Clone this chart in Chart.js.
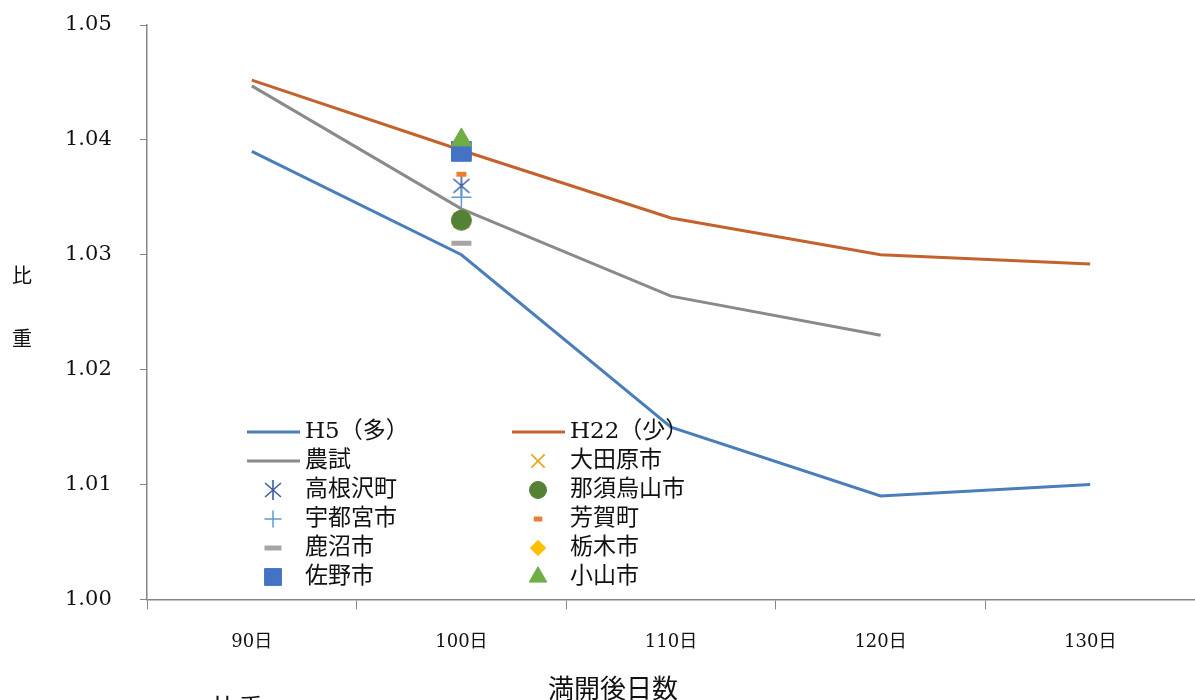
<!DOCTYPE html>
<html>
<head>
<meta charset="utf-8">
<script src="https://cdn.jsdelivr.net/npm/chart.js"></script>
<style>
html,body{margin:0;padding:0;background:#fff;}
canvas{display:block;}
</style>
</head>
<body>
<canvas id="graph" width="1195" height="700"></canvas>
<script>
// 満開後日数
const days = ["90日", "100日", "110日", "120日", "130日"];
const yTicks = [1.00, 1.01, 1.02, 1.03, 1.04, 1.05];

// 比重の推移
const h5 = [1.039, 1.030, 1.015, 1.009, 1.010];
const h22 = [1.0452, 1.0391, 1.0332, 1.030, 1.0292];
const noushi = [1.0447, 1.034, 1.0264, 1.023, null];

// 100日時点の市町の値
const cities = ["大田原市", "高根沢町", "那須烏山市", "宇都宮市", "芳賀町", "鹿沼市", "栃木市", "佐野市", "小山市"];
const cityValues = [1.033, 1.036, 1.033, 1.035, 1.037, 1.031, 1.039, 1.039, 1.040];

const serif = "'DejaVu Serif', 'Noto Sans CJK JP'";

// asterisk marker (6 spokes)
function asterisk(color, r) {
  let c = document.createElement("canvas");
  c.width = r * 2 + 2; c.height = r * 2 + 2;
  let g = c.getContext("2d");
  g.strokeStyle = color; g.lineWidth = 1.6;
  let m = r + 1;
  g.beginPath();
  g.moveTo(m, m - r); g.lineTo(m, m + r);
  g.moveTo(m - r * 0.8, m - r * 0.7); g.lineTo(m + r * 0.8, m + r * 0.7);
  g.moveTo(m + r * 0.8, m - r * 0.7); g.lineTo(m - r * 0.8, m + r * 0.7);
  g.stroke();
  return c;
}

const cityStyles = {
  "大田原市": {pointStyle: "crossRot", color: "#e8a317", radius: 11, bw: 1.5},
  "高根沢町": {pointStyle: asterisk("#3b5ea6", 10), color: "#3b5ea6", radius: 10, bw: 1.5},
  "那須烏山市": {pointStyle: "circle", color: "#548235", radius: 10, bw: 1},
  "宇都宮市": {pointStyle: "cross", color: "#5b9bd5", radius: 10, bw: 1.5},
  "芳賀町": {pointStyle: "line", color: "#ed7d31", radius: 5, bw: 5},
  "鹿沼市": {pointStyle: "line", color: "#a5a5a5", radius: 10, bw: 5},
  "栃木市": {pointStyle: "rectRot", color: "#ffc000", radius: 9, bw: 1},
  "佐野市": {pointStyle: "rect", color: "#4472c4", radius: 14, bw: 1},
  "小山市": {pointStyle: "triangle", color: "#70ad47", radius: 12, bw: 1}
};

let datasets = [
  {label: "H5（多）", data: h5, borderColor: "#4a7ebb", backgroundColor: "#4a7ebb", borderWidth: 3, pointRadius: 0, tension: 0},
  {label: "H22（少）", data: h22, borderColor: "#c4622d", backgroundColor: "#c4622d", borderWidth: 3, pointRadius: 0, tension: 0},
  {label: "農試", data: noushi, borderColor: "#8a8a8a", backgroundColor: "#8a8a8a", borderWidth: 3, pointRadius: 0, tension: 0}
];

cities.forEach((name, i) => {
  let s = cityStyles[name];
  let d = days.map((_, k) => k === 1 ? cityValues[i] : null);
  datasets.push({
    label: name, data: d, showLine: false,
    pointStyle: s.pointStyle, pointRadius: s.radius, pointHoverRadius: s.radius,
    borderColor: s.color, backgroundColor: s.color, pointBorderWidth: s.bw
  });
});

// later series drawn on top, like the original
datasets.forEach((d, i) => d.order = datasets.length - i);

function drawMarker(ctx, ds, x, y) {
  let opts = {pointStyle: ds.pointStyle, radius: ds.pointRadius * 0.85, borderWidth: ds.pointBorderWidth, rotation: 0};
  if (Chart.helpers && Chart.helpers.drawPoint) {
    Chart.helpers.drawPoint(ctx, opts, x, y);
  } else if (ds.pointStyle instanceof HTMLCanvasElement) {
    ctx.drawImage(ds.pointStyle, x - ds.pointStyle.width / 2, y - ds.pointStyle.height / 2);
  }
}

// 2-column legend inside plot
const legendPlugin = {
  id: "twoColLegend",
  afterDraw(chart) {
    const ctx = chart.ctx;
    ctx.save();
    ctx.font = "23px " + serif;
    ctx.textBaseline = "middle";
    chart.data.datasets.forEach((ds, i) => {
      let row = Math.floor(i / 2), col = i % 2;
      let x0 = col === 0 ? 247 : 512;
      let y = 432 + row * 29;
      ctx.save();
      if (ds.showLine === false) {
        ctx.strokeStyle = ds.borderColor; ctx.fillStyle = ds.backgroundColor; ctx.lineWidth = ds.pointBorderWidth;
        drawMarker(ctx, ds, x0 + 26, y);
      } else {
        ctx.strokeStyle = ds.borderColor; ctx.lineWidth = 3;
        ctx.beginPath(); ctx.moveTo(x0, y); ctx.lineTo(x0 + 53, y); ctx.stroke();
      }
      ctx.restore();
      ctx.fillStyle = "#111";
      ctx.fillText(ds.label, x0 + 58, y);
    });
    // axis titles
    ctx.fillStyle = "#111";
    ctx.font = "20px 'Noto Sans CJK JP'";
    ctx.textAlign = "center";
    ctx.fillText("比", 22, 275);
    ctx.fillText("重", 22, 338);
    ctx.font = "26px 'Noto Sans CJK JP'";
    ctx.fillText("満開後日数", 613, 688);
    ctx.fillText("比重", 238, 708);
    ctx.restore();
  }
};

new Chart(document.getElementById("graph"), {
  type: "line",
  data: {labels: days, datasets: datasets},
  options: {
    responsive: false,
    animation: false,
    devicePixelRatio: 1,
    layout: {autoPadding: false, padding: {top: 25, left: 65, right: 0, bottom: 25}},
    plugins: {legend: {display: false}, tooltip: {enabled: false}},
    scales: {
      x: {
        offset: true,
        grid: {drawOnChartArea: false, offset: true, tickLength: 10, color: "#868686"},
        border: {color: "#868686", width: 1.5},
        ticks: {font: {size: 18, family: serif}, color: "#111", padding: 22}
      },
      y: {
        min: 1.00, max: 1.05,
        afterBuildTicks: axis => { axis.ticks = yTicks.map(v => ({value: v})); },
        afterFit: axis => { axis.width = 82; },
        grid: {drawOnChartArea: false, tickLength: 7, color: "#868686"},
        border: {color: "#868686", width: 1.5},
        ticks: {font: {size: 21, family: serif}, color: "#111", padding: 2, crossAlign: "far",
          callback: v => v.toFixed(2)}
      }
    }
  },
  plugins: [legendPlugin]
});
</script>
</body>
</html>
